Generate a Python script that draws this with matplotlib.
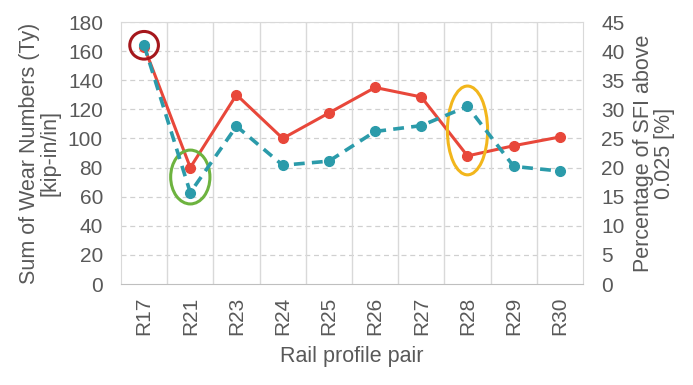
import matplotlib
matplotlib.use("Agg")
import matplotlib.pyplot as plt
from matplotlib.patches import Ellipse
import numpy as np

plt.rcParams['font.family'] = ['Liberation Sans', 'DejaVu Sans']

categories = ["R17", "R21", "R23", "R24", "R25", "R26", "R27", "R28", "R29", "R30"]
wear_numbers = [163, 80, 130, 100, 117.5, 135, 128.5, 88, 95, 101]
sfi_percent = [41, 15.7, 27.1, 20.4, 21.1, 26.2, 27.2, 30.5, 20.2, 19.4]

gray = "#595959"
red = "#E8473A"
teal = "#2B9BAA"

fig = plt.figure(figsize=(6.93, 3.85), dpi=100)
ax = fig.add_axes([121/693, 1-284/385, 462/693, 262/385])
ax2 = ax.twinx()

x = np.arange(len(categories))
ax.set_xlim(-0.5, len(categories)-0.5)
ax.set_ylim(0, 180)
ax.set_yticks(np.arange(0, 181, 20))
ax2.set_ylim(0, 45)
ax2.set_yticks(np.arange(0, 46, 5))

# grid
for yv in np.arange(20, 181, 20):
    ax.axhline(yv, color="#D0D0D0", lw=0.9, ls=(0, (4, 3)), zorder=0)
for xv in np.arange(0.5, len(categories)-0.5, 1):
    ax.axvline(xv, color="#D9D9D9", lw=1.0, zorder=0)

ax.plot(x, wear_numbers, color=red, lw=2.2, marker='o', ms=7, zorder=3)
ax2.plot(x, sfi_percent, color=teal, lw=2.6, ls=(0, (3, 2)), marker='o', ms=7, zorder=2)

# highlight ellipses
ax.add_patch(Ellipse((0, wear_numbers[0] + 1), 0.62, 19, fill=False, ec="#A5171C", lw=2.2, zorder=5))
ax.add_patch(Ellipse((1, 73.5), 0.85, 37, fill=False, ec="#6DB33F", lw=2.2, zorder=5))
ax.add_patch(Ellipse((7, 105.5), 0.87, 61, fill=False, ec="#F2B61C", lw=2.2, zorder=5))

ax.set_xticks(x)
ax.set_xticklabels(categories, rotation=90)

for a in (ax, ax2):
    a.tick_params(length=0, labelsize=15, colors=gray)
    for s in a.spines.values():
        s.set_visible(False)
ax.tick_params(axis='x', pad=9)
ax.tick_params(axis='y', pad=13)
ax2.tick_params(axis='y', pad=13)
for side in ('left', 'right', 'top'):
    ax.spines[side].set_visible(True)
    ax.spines[side].set_color("#D9D9D9")
ax.spines['bottom'].set_visible(True)
ax.spines['bottom'].set_color("#BFBFBF")

ax.set_ylabel("Sum of Wear Numbers (Ty)\n[kip-in/in]", fontsize=15.5, color=gray, linespacing=1.0, labelpad=5)
ax2.set_ylabel("Percentage of SFI above\n0.025 [%]", fontsize=15.5, color=gray, linespacing=1.0, labelpad=6)
ax.set_xlabel("Rail profile pair", fontsize=15.5, color=gray, labelpad=8)

fig.savefig("out.png", dpi=100)
